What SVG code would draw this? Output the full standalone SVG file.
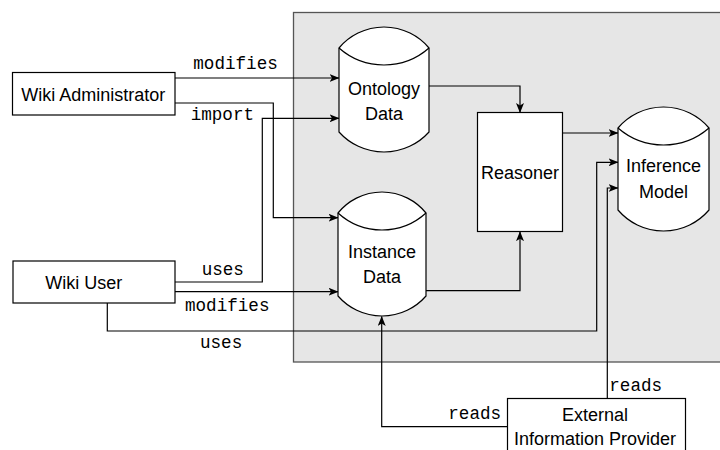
<svg xmlns="http://www.w3.org/2000/svg" width="720" height="450" viewBox="0 0 720 450">
<defs>
<style>
.box{fill:#fff;stroke:#000;stroke-width:1.2}
.lbl{font-family:"Liberation Sans",Arial,sans-serif;font-size:18px;fill:#000;text-anchor:middle}
.mono{font-family:"Liberation Mono","Courier New",monospace;font-size:17.6px;fill:#000}
.con path{fill:none;stroke:#000;stroke-width:1.2}
.arr path{marker-end:url(#ah)}
</style>
<marker id="ah" viewBox="0 0 10 8" refX="9.5" refY="4" markerWidth="10" markerHeight="8" markerUnits="userSpaceOnUse" orient="auto">
<path d="M0,0 L10,4 L0,8 L2.5,4 Z" fill="#000" stroke="none"/>
</marker>
</defs>
<rect width="720" height="450" fill="#fff"/>
<rect id="container" x="293.5" y="12.5" width="440" height="349.5" fill="#e6e6e6" stroke="#555" stroke-width="1.3"/>

<g id="connectors" class="con">
<g class="arr">
<path d="M175,78 H339"/>
<path d="M175,103 H273.3 V217.7 H338"/>
<path d="M175,282 H262.3 V118.3 H339"/>
<path d="M175,291.7 H338"/>
<path d="M107.3,303 V331 H596.7 V162.3 H618"/>
<path d="M607.3,398.5 V188 H618"/>
<path d="M507.5,426.7 H381.7 V316.5"/>
<path d="M429,86 H520 V112.5"/>
<path d="M426,290.7 H520 V231.7"/>
<path d="M562.5,133 H618"/>
</g>
<text class="mono" x="193.3" y="69.3">modifies</text>
<text class="mono" x="190.7" y="120">import</text>
<text class="mono" x="201.7" y="275">uses</text>
<text class="mono" x="185" y="310.7">modifies</text>
<text class="mono" x="200" y="347.7">uses</text>
<text class="mono" x="448.3" y="419.3">reads</text>
<text class="mono" x="609.3" y="391">reads</text>
</g>

<g id="wiki-admin">
<rect class="box" x="12.5" y="72.5" width="162.5" height="42.5"/>
<text class="lbl" x="93.2" y="100.5">Wiki Administrator</text>
</g>
<g id="wiki-user">
<rect class="box" x="13" y="261" width="162" height="42"/>
<text class="lbl" x="83.7" y="288.5">Wiki User</text>
</g>
<g id="ontology-data">
<path class="box" d="M339,48 A58.7,58.7 0 0 1 429,48 L429,132 A60.6,60.6 0 0 1 339,132 Z"/>
<path class="box" d="M339,48 A68.1,68.1 0 0 0 429,48" fill="none"/>
<text class="lbl" x="384" y="94.5">Ontology</text>
<text class="lbl" x="384" y="119.5">Data</text>
</g>
<g id="instance-data">
<path class="box" d="M338,213 A56.6,56.6 0 0 1 426,213 L426,296 A58.4,58.4 0 0 1 338,296 Z"/>
<path class="box" d="M338,213 A65.4,65.4 0 0 0 426,213" fill="none"/>
<text class="lbl" x="382" y="257.5">Instance</text>
<text class="lbl" x="382" y="283">Data</text>
</g>
<g id="reasoner">
<rect class="box" x="477.5" y="112.5" width="85" height="119"/>
<text class="lbl" x="520" y="178.5">Reasoner</text>
</g>
<g id="inference-model">
<path class="box" d="M618,128 A59.8,59.8 0 0 1 709,128 L709,210 A59.8,59.8 0 0 1 618,210 Z"/>
<path class="box" d="M618,128 A69.4,69.4 0 0 0 709,128" fill="none"/>
<text class="lbl" x="663.5" y="172">Inference</text>
<text class="lbl" x="663.5" y="198">Model</text>
</g>
<g id="external-provider">
<rect class="box" x="507.5" y="398.5" width="178" height="60"/>
<text class="lbl" x="595" y="420.5">External</text>
<text class="lbl" x="595" y="444.5">Information Provider</text>
</g>
</svg>
